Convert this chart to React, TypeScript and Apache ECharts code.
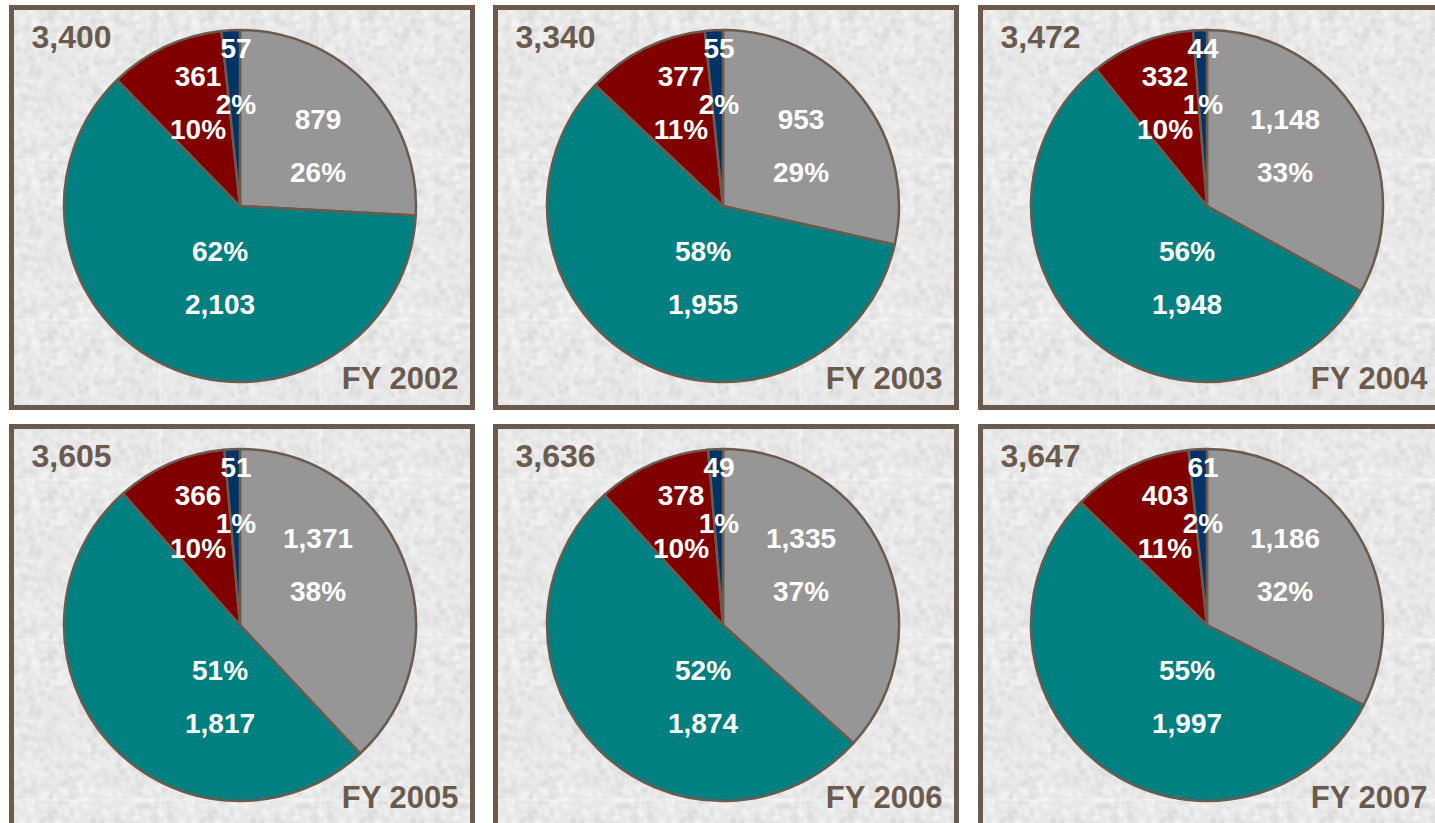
import React, { useEffect, useRef } from 'react';
import * as echarts from 'echarts';

// ---- Data ----
const years = ['FY 2002', 'FY 2003', 'FY 2004', 'FY 2005', 'FY 2006', 'FY 2007'];
const totals = [3400, 3340, 3472, 3605, 3636, 3647];
const sliceNames = ['Grey segment', 'Teal segment', 'Red segment', 'Navy segment'];
const greyValues = [879, 953, 1148, 1371, 1335, 1186];
const tealValues = [2103, 1955, 1948, 1817, 1874, 1997];
const redValues = [361, 377, 332, 366, 378, 403];
const navyValues = [57, 55, 44, 51, 49, 61];
const greyPct = [26, 29, 33, 38, 37, 32];
const tealPct = [62, 58, 56, 51, 52, 55];
const redPct = [10, 11, 10, 10, 10, 11];
const navyPct = [2, 2, 1, 1, 1, 2];

// ---- Styling / layout ----
const sliceColors = ['#969696', '#008080', '#800000', '#003366'];
const brown = '#6b5b4e';
const font = '"Liberation Sans", Arial, Helvetica, sans-serif';
const colCenters = [240, 723, 1207];
const rowCenters = [206, 625];
const radius = 176;
const panelLefts = [11.5, 495.5, 980.5];
const panelTops = [7.5, 426.5];
const panelW = 461;
const panelH = 400;
// label block offsets relative to pie centre, per slice
const labelOffsets = [
  [78, -60],
  [-20, 72],
  [-42, -103],
  [-4, -130],
];
// teal slice shows percentage above value; others value above percentage
const pctFirst = [false, true, false, false];

function makeTexture(): HTMLCanvasElement {
  const size = 160;
  const c = document.createElement('canvas');
  c.width = size;
  c.height = size;
  const ctx = c.getContext('2d')!;
  ctx.fillStyle = '#e9e9e9';
  ctx.fillRect(0, 0, size, size);
  let s = 12345;
  const rnd = () => {
    s = (s * 1103515245 + 12345) & 0x7fffffff;
    return s / 0x7fffffff;
  };
  for (let i = 0; i < 2000; i++) {
    const x = rnd() * size;
    const y = rnd() * size;
    const r = 0.6 + rnd() * 2.2;
    const g = Math.round(208 + rnd() * 47);
    ctx.fillStyle = `rgba(${g},${g},${g},0.5)`;
    const rot = rnd() * 3;
    for (const ox of [-size, 0, size]) {
      for (const oy of [-size, 0, size]) {
        ctx.beginPath();
        ctx.ellipse(x + ox, y + oy, r * 1.5, r, rot, 0, Math.PI * 2);
        ctx.fill();
      }
    }
  }
  const out = document.createElement('canvas');
  out.width = size;
  out.height = size;
  const octx = out.getContext('2d')!;
  octx.filter = 'blur(0.8px)';
  octx.drawImage(c, 0, 0);
  return out;
}

export default function App() {
  const ref = useRef<HTMLDivElement>(null);

  useEffect(() => {
    if (!ref.current) return;
    const chart = echarts.init(ref.current, undefined, { renderer: 'svg' });
    const texture = makeTexture();

    const graphics: any[] = [];
    const series: any[] = [];

    years.forEach((year, i) => {
      const col = i % 3;
      const row = Math.floor(i / 3);
      const cx = colCenters[col];
      const cy = rowCenters[row];
      const left = panelLefts[col];
      const top = panelTops[row];

      graphics.push({
        type: 'rect',
        silent: true,
        z: 0,
        shape: { x: left, y: top, width: panelW, height: panelH },
        style: {
          fill: { image: texture, repeat: 'repeat' },
          stroke: brown,
          lineWidth: 5,
        },
      });
      graphics.push({
        type: 'text',
        silent: true,
        z: 1,
        x: left + 20,
        y: top + 29,
        style: {
          text: totals[i].toLocaleString('en-US'),
          fill: brown,
          font: `bold 32px ${font}`,
          textAlign: 'left',
          textVerticalAlign: 'middle',
        },
      });
      graphics.push({
        type: 'text',
        silent: true,
        z: 1,
        x: left + panelW - 14,
        y: top + 371,
        style: {
          text: year,
          fill: brown,
          font: `bold 31px ${font}`,
          textAlign: 'right',
          textVerticalAlign: 'middle',
        },
      });

      const values = [greyValues[i], tealValues[i], redValues[i], navyValues[i]];
      const pcts = [greyPct[i], tealPct[i], redPct[i], navyPct[i]];

      series.push({
        type: 'pie',
        name: year,
        center: [cx, cy],
        radius: radius,
        startAngle: 90,
        clockwise: true,
        silent: true,
        avoidLabelOverlap: false,
        z: 2,
        itemStyle: { borderColor: brown, borderWidth: 2.5 },
        labelLine: { show: false },
        label: {
          show: true,
          position: 'center',
          textBorderWidth: 0,
          formatter: (p: any) => {
            const j = p.dataIndex;
            const k = j === 3 ? 'n' : '';
            const v = values[j].toLocaleString('en-US');
            const pc = `${pcts[j]}%`;
            return pctFirst[j] ? `{${k}v|${pc}}\n{${k}p|${v}}` : `{${k}v|${v}}\n{${k}p|${pc}}`;
          },
          rich: {
            v: { color: '#ffffff', fontSize: 28, fontWeight: 'bold', fontFamily: font, lineHeight: 53, align: 'center' },
            p: { color: '#ffffff', fontSize: 28, fontWeight: 'bold', fontFamily: font, lineHeight: 53, align: 'center' },
            nv: { color: '#ffffff', fontSize: 28, fontWeight: 'bold', fontFamily: font, lineHeight: 56, align: 'center' },
            np: { color: '#ffffff', fontSize: 28, fontWeight: 'bold', fontFamily: font, lineHeight: 56, align: 'center' },
          },
        },
        labelLayout: (params: any) => ({
          dx: labelOffsets[params.dataIndex][0],
          dy: labelOffsets[params.dataIndex][1],
        }),
        data: values.map((v, j) => ({
          name: sliceNames[j],
          value: v,
          itemStyle: { color: sliceColors[j] },
        })),
      });
    });

    chart.setOption({
      animation: false,
      backgroundColor: '#ffffff',
      graphic: { elements: graphics },
      series,
    });

    return () => {
      chart.dispose();
    };
  }, []);

  return (
    <div
      ref={ref}
      style={{ position: 'absolute', left: 0, top: 0, width: 1435, height: 823 }}
    />
  );
}
